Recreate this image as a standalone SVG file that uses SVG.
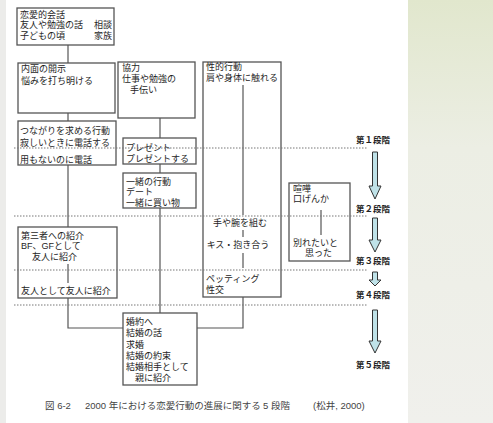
<svg xmlns="http://www.w3.org/2000/svg" width="493" height="423" viewBox="0 0 493 423">
<style>
text{font-family:"Liberation Sans","Noto Sans CJK JP",sans-serif;font-size:9px;fill:#1e1e1e}
.box{fill:none;stroke:#555;stroke-width:1.3}
.con{fill:none;stroke:#555;stroke-width:1.2}
.stage{stroke:#777;stroke-width:1;stroke-dasharray:1.5 1.5}
.lbl{font-weight:bold;font-size:8.5px}
.arr{fill:#bfe2e8;stroke:#333;stroke-width:1}
.cap{font-size:9.5px;fill:#444}
</style>
<defs>
<linearGradient id="bg" x1="0" y1="0" x2="0" y2="1">
<stop offset="0" stop-color="#e1e7cd"/>
<stop offset="0.35" stop-color="#eceee4"/>
<stop offset="1" stop-color="#f0f0ec"/>
</linearGradient>
</defs>
<rect x="0" y="0" width="493" height="423" fill="url(#bg)"/>
<rect x="0" y="0" width="6" height="423" fill="#ececea"/>
<rect x="6" y="0" width="402" height="423" fill="#fff"/>

<g id="connectors">
<line class="con" x1="68" y1="45" x2="68" y2="63"/>
<line class="con" x1="68" y1="113" x2="68" y2="121"/>
<line class="con" x1="68" y1="165" x2="68" y2="227"/>
<line class="con" x1="68" y1="264" x2="68" y2="283"/>
<polyline class="con" points="68,298 68,328 123,328"/>
<line class="con" x1="160" y1="118" x2="160" y2="138"/>
<line class="con" x1="160" y1="164" x2="160" y2="173"/>
<line class="con" x1="160" y1="208" x2="160" y2="313"/>
<line class="con" x1="243" y1="85" x2="243" y2="215"/>
<line class="con" x1="243" y1="230" x2="243" y2="237"/>
<line class="con" x1="243" y1="253" x2="243" y2="268"/>
<polyline class="con" points="243,297 243,328 197,328"/>
<line class="con" x1="321" y1="210" x2="321" y2="235"/>
</g>

<g id="n-talk">
<rect class="box" x="17" y="8" width="97" height="37"/>
<text x="20" y="17.5">恋愛的会話</text>
<text x="20" y="28">友人や勉強の話</text><text x="94" y="28">相談</text>
<text x="20" y="38.5">子どもの頃</text><text x="94" y="38.5">家族</text>
</g>

<g id="n-disclose">
<rect class="box" x="18" y="63" width="97" height="50"/>
<text x="21" y="72">内面の開示</text>
<text x="21" y="84">悩みを打ち明ける</text>
</g>

<g id="n-connect">
<rect class="box" x="18" y="121" width="98" height="44"/>
<text x="20" y="134">つながりを求める行動</text>
<text x="20" y="146">寂しいときに電話する</text>
<text x="20" y="162.5">用もないのに電話</text>
</g>

<g id="n-introduce">
<rect class="box" x="18" y="227" width="99" height="71"/>
<text x="21" y="238.5">第三者への紹介</text>
<text x="21" y="249">BF、GFとして</text>
<text x="32" y="260">友人に紹介</text>
<text x="21" y="293.5">友人として友人に紹介</text>
</g>

<g id="n-cooperate">
<rect class="box" x="118" y="62" width="77" height="56"/>
<text x="122" y="70.5">協力</text>
<text x="122" y="81.5">仕事や勉強の</text>
<text x="130" y="92.5">手伝い</text>
</g>

<g id="n-present">
<rect class="box" x="123" y="138" width="73" height="26"/>
<text x="126" y="150.5">プレゼント</text>
<text x="126" y="161.5">プレゼントする</text>
</g>

<g id="n-together">
<rect class="box" x="123" y="173" width="73" height="35"/>
<text x="126" y="184.5">一緒の行動</text>
<text x="126" y="195">デート</text>
<text x="126" y="205.5">一緒に買い物</text>
</g>

<g id="n-engage">
<rect class="box" x="123" y="313" width="74" height="72"/>
<text x="126" y="325">婚約へ</text>
<text x="126" y="336">結婚の話</text>
<text x="126" y="347.5">求婚</text>
<text x="126" y="359">結婚の約束</text>
<text x="126" y="370">結婚相手として</text>
<text x="135" y="381">親に紹介</text>
</g>

<g id="n-sexual">
<rect class="box" x="203" y="62" width="78" height="235"/>
<text x="206" y="70">性的行動</text>
<text x="206" y="80.5">肩や身体に触れる</text>
<text x="240" y="226" text-anchor="middle">手や腕を組む</text>
<text x="238" y="248" text-anchor="middle">キス・抱き合う</text>
<text x="206" y="282">ペッティング</text>
<text x="206" y="293">性交</text>
</g>

<g id="n-quarrel">
<rect class="box" x="289" y="183" width="61" height="78"/>
<text x="293" y="191.5">喧嘩</text>
<text x="293" y="202">口げんか</text>
<text x="293" y="246">別れたいと</text>
<text x="305" y="256">思った</text>
</g>

<g id="stages">
<line class="stage" x1="14" y1="148" x2="368" y2="148"/>
<line class="stage" x1="14" y1="216" x2="368" y2="216"/>
<line class="stage" x1="14" y1="270" x2="368" y2="270"/>
<line class="stage" x1="14" y1="305" x2="368" y2="305"/>
<text class="lbl" x="356" y="143">第１段階</text>
<text class="lbl" x="356" y="212">第２段階</text>
<text class="lbl" x="356" y="264">第３段階</text>
<text class="lbl" x="356" y="298">第４段階</text>
<text class="lbl" x="356" y="368">第５段階</text>
</g>

<g id="arrows">
<path class="arr" d="M372.5,152 H377.5 V186 H381 L375,199 L369,186 H372.5 Z"/>
<path class="arr" d="M372.5,218 H377.5 V240 H381 L375,252 L369,240 H372.5 Z"/>
<path class="arr" d="M372.5,272 H377.5 V280 H381 L375,286 L369,280 H372.5 Z"/>
<path class="arr" d="M372.5,310 H377.5 V341 H381 L375,353 L369,341 H372.5 Z"/>
</g>

<g id="caption">
<text class="cap" x="45" y="408.5">図 6-2</text>
<text class="cap" x="85" y="408.5">2000 年における恋愛行動の進展に関する</text>
<text class="cap" x="263" y="408.5">5 段階</text>
<text class="cap" x="313" y="408.5">(松井, 2000)</text>
</g>
</svg>
